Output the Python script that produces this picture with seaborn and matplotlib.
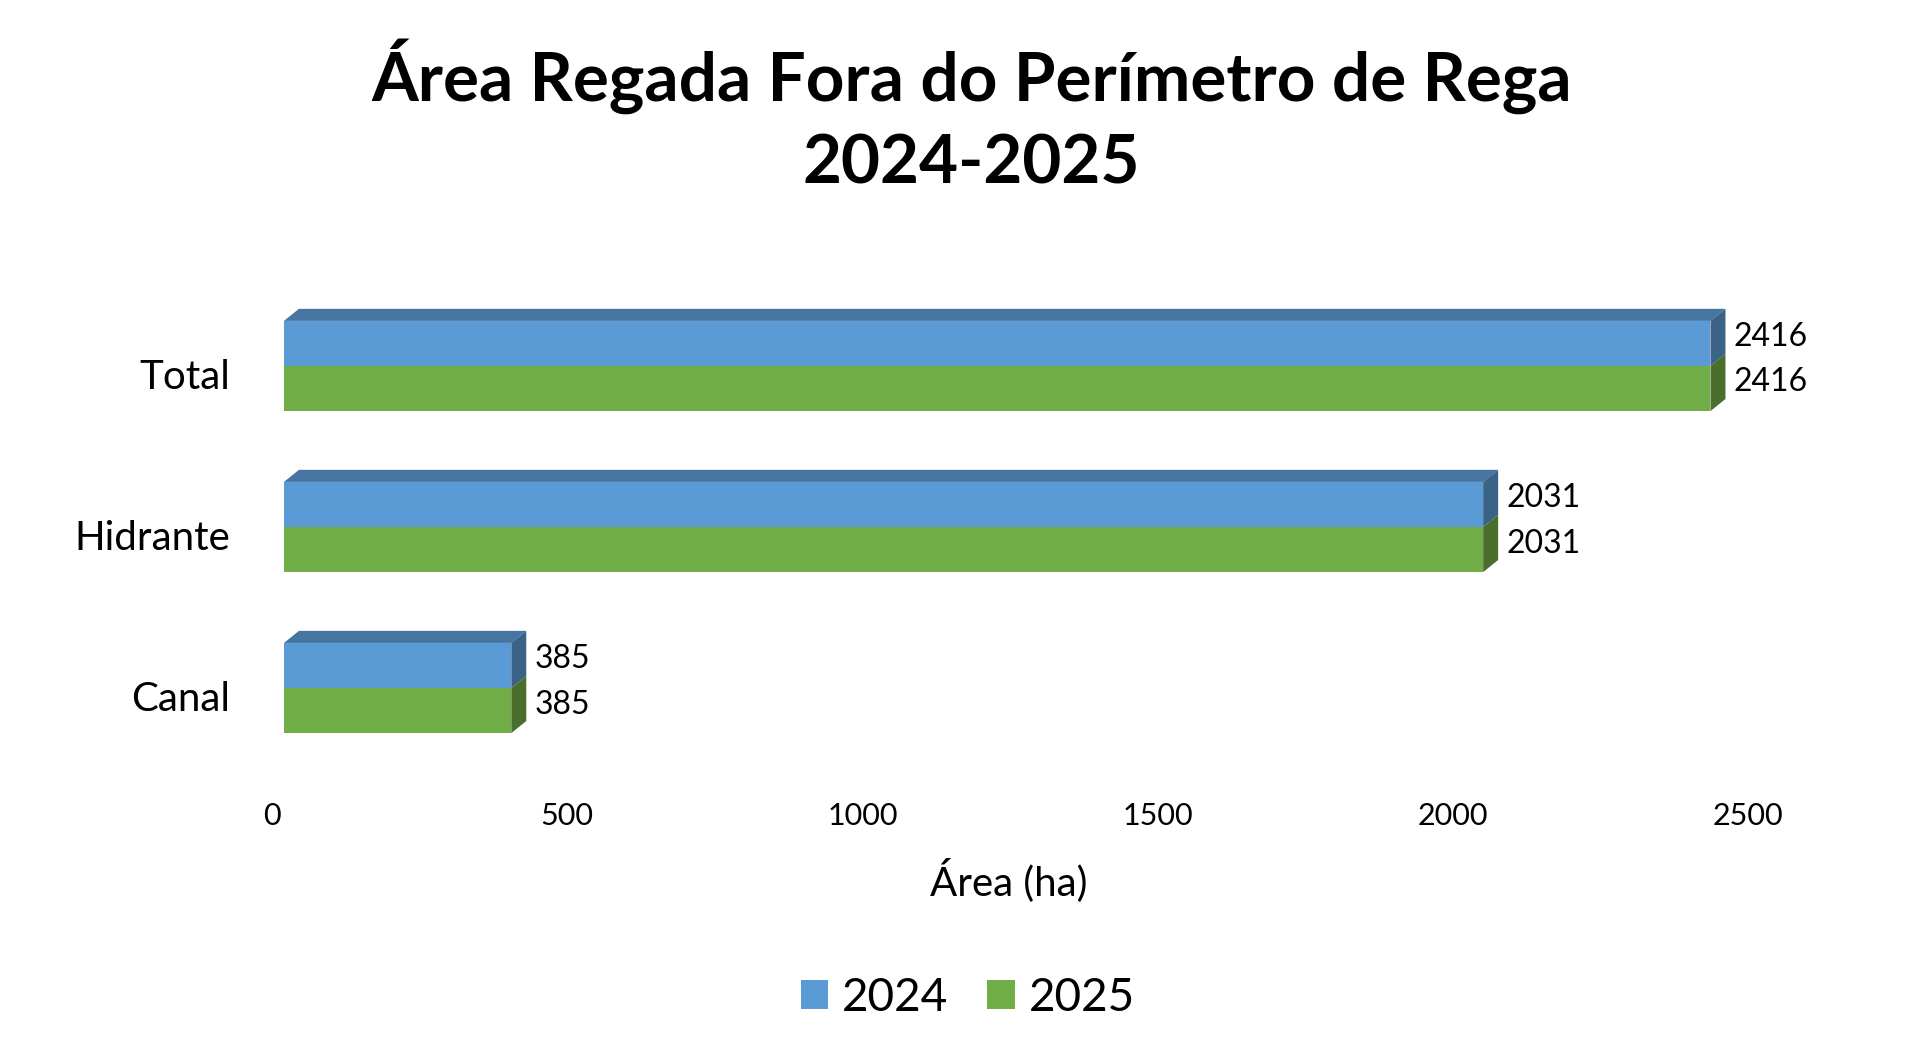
import matplotlib.pyplot as plt
import matplotlib.transforms as mtransforms
from matplotlib.patches import Polygon
import pandas as pd
import seaborn as sns

categorias = ["Total", "Hidrante", "Canal"]
anos = ["2024", "2025"]
area_2024 = [2416, 2031, 385]
area_2025 = [2416, 2031, 385]
x_ticks = [0, 500, 1000, 1500, 2000, 2500]

cores = {"2024": "#5B9BD5", "2025": "#70AD47"}
cores_topo = {"2024": "#4675A1", "2025": "#557F36"}
cores_lado = {"2024": "#3B6388", "2025": "#4A6F2D"}

df = pd.DataFrame({
    "Categoria": categorias * 2,
    "Ano": [anos[0]] * 3 + [anos[1]] * 3,
    "Área": area_2024 + area_2025,
})

sns.set_style("white")
plt.rcParams["font.family"] = ["Lato", "DejaVu Sans"]
plt.rcParams["text.color"] = "black"
plt.rcParams["xtick.color"] = "black"
plt.rcParams["ytick.color"] = "black"
plt.rcParams["axes.labelcolor"] = "black"

fig = plt.figure(figsize=(19.2, 10.64), dpi=100)
ax = fig.add_axes([0.1479, 0.2777, 0.7688, 0.454])

sns.barplot(df, y="Categoria", x="Área", hue="Ano", order=categorias,
            hue_order=anos, palette=cores, saturation=1, width=0.56, ax=ax,
            linewidth=0)

ax.set_xlim(0, 2500)
ax.set_ylim(2.5, -0.5)

# falso efeito 3D: profundidade em unidades de dados
dx = 25.4
dy = 0.075
for ano, cont in zip(anos, ax.containers):
    for bar in cont:
        x0, y0 = bar.get_x(), bar.get_y()
        w, h = bar.get_width(), bar.get_height()
        x1, y_top, y_bot = x0 + w, y0, y0 + h
        if ano == anos[0]:
            ax.add_patch(Polygon([(x0, y_top), (x1, y_top), (x1 + dx, y_top - dy),
                                  (x0 + dx, y_top - dy)], closed=True,
                                 facecolor=cores_topo[ano], edgecolor="none",
                                 clip_on=False))
        ax.add_patch(Polygon([(x1, y_top), (x1 + dx, y_top - dy),
                              (x1 + dx, y_bot - dy), (x1, y_bot)], closed=True,
                             facecolor=cores_lado[ano], edgecolor="none",
                             clip_on=False))
        ax.annotate(f"{int(w)}", (x1 + dx, y_top + h / 2 - dy / 2),
                    xytext=(6, 0), textcoords="offset points",
                    ha="left", va="center", fontsize=23, annotation_clip=False)

ax.set_xticks(x_ticks)
ax.set_xticklabels([str(t) for t in x_ticks])
ax.tick_params(axis="x", length=0, pad=24, labelsize=22)
ax.tick_params(axis="y", length=0, pad=39, labelsize=29)
for lbl in ax.get_xticklabels():
    lbl.set_transform(lbl.get_transform() +
                      mtransforms.ScaledTranslation(-0.12, 0, fig.dpi_scale_trans))
for lbl in ax.get_yticklabels():
    lbl.set_transform(lbl.get_transform() +
                      mtransforms.ScaledTranslation(0, -0.08, fig.dpi_scale_trans))

ax.set_ylabel("")
ax.set_xlabel("Área (ha)", fontsize=29)
ax.xaxis.set_label_coords(0.491, -0.231)
ax.xaxis.label.set_va("center")
sns.despine(ax=ax, left=True, bottom=True)

sns.move_legend(ax, "center", bbox_to_anchor=(0.504, 0.062),
                bbox_transform=fig.transFigure, ncol=2, title=None,
                frameon=False, fontsize=33, handlelength=0.6, handleheight=0.6,
                handletextpad=0.3, columnspacing=0.85)

fig.text(0.506, 1 - 76 / 1064, "Área Regada Fora do Perímetro de Rega",
         ha="center", va="center", fontsize=48.5, fontweight="bold")
fig.text(0.506, 1 - 165 / 1064, "2024-2025",
         ha="center", va="center", fontsize=48.5, fontweight="bold")

fig.savefig("out.png", dpi=100)
